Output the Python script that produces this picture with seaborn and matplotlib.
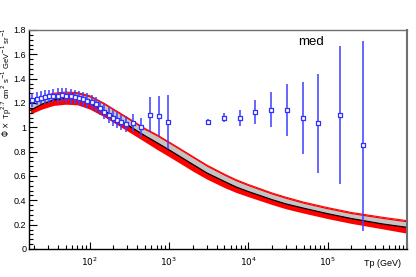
import numpy as np
import pandas as pd
import matplotlib
matplotlib.use("Agg")
import matplotlib.pyplot as plt
import seaborn as sns
from matplotlib.ticker import MultipleLocator, LogLocator, FixedLocator, NullFormatter, FuncFormatter

# model band: upper edge, central (black) line, lower edge
band_e = [18, 25, 35, 50, 70, 100, 150, 200, 300, 500, 700, 1000, 1500, 2000, 3000,
          5000, 7000, 1e4, 2e4, 3e4, 5e4, 1e5, 2e5, 5e5, 1e6]
band_hi = [1.21, 1.25, 1.28, 1.29, 1.285, 1.26, 1.20, 1.15, 1.08, 0.99, 0.94, 0.88,
           0.81, 0.76, 0.69, 0.615, 0.57, 0.53, 0.46, 0.425, 0.385, 0.34, 0.30, 0.26, 0.233]
band_mid = [1.14, 1.19, 1.225, 1.24, 1.235, 1.20, 1.14, 1.09, 1.02, 0.93, 0.875, 0.815,
            0.745, 0.695, 0.625, 0.555, 0.51, 0.472, 0.405, 0.37, 0.335, 0.29, 0.25, 0.205, 0.178]
band_lo = [1.11, 1.15, 1.18, 1.19, 1.185, 1.15, 1.09, 1.04, 0.97, 0.88, 0.82, 0.76,
           0.69, 0.64, 0.575, 0.505, 0.465, 0.43, 0.365, 0.33, 0.295, 0.25, 0.21, 0.165, 0.13]

# measured points
data_e = [19, 21.5, 24.5, 27.5, 31, 35, 39.5, 45, 51, 57.5, 65, 73.5, 83, 94, 106, 120,
          136, 154, 174, 197, 223, 252, 285, 355, 448, 571, 743, 986,
          3100, 4910, 7830, 12340, 19500, 31100, 49200, 76900, 145000, 283000]
data_phi = [1.225, 1.235, 1.245, 1.25, 1.255, 1.26, 1.26, 1.265, 1.26, 1.255, 1.25, 1.24,
            1.23, 1.22, 1.205, 1.19, 1.16, 1.13, 1.10, 1.08, 1.06, 1.04, 1.03,
            1.035, 1.0, 1.103, 1.093, 1.044,
            1.046, 1.079, 1.079, 1.126, 1.145, 1.142, 1.079, 1.033, 1.104, 0.852]
data_err_lo = [0.055, 0.055, 0.055, 0.055, 0.055, 0.055, 0.06, 0.06, 0.06, 0.06, 0.06, 0.06,
               0.06, 0.06, 0.06, 0.06, 0.06, 0.06, 0.065, 0.065, 0.065, 0.065, 0.065,
               0.074, 0.08, 0.145, 0.164, 0.22,
               0.025, 0.039, 0.066, 0.096, 0.145, 0.214, 0.296, 0.407, 0.567, 0.70]
data_err_hi = data_err_lo[:-1] + [0.86]

df = pd.DataFrame({"E": band_e, "hi": band_hi, "mid": band_mid, "lo": band_lo})

fig = plt.figure(figsize=(4.16, 2.77), dpi=100)
ax = fig.add_axes([0.0697, 0.1011, 0.9083, 0.7906])

ax.fill_between(df["E"], df["hi"], df["lo"], color="#ff0000", lw=0)
ax.plot(df["E"], df["hi"], color="#ff0000", lw=0.8)
ax.fill_between(df["E"], df["hi"] - 0.01, df["mid"] + 0.004, color="#c4c4c4", lw=0)
sns.lineplot(data=df, x="E", y="mid", color="black", lw=0.9, ax=ax)

ax.errorbar(data_e, data_phi, yerr=[data_err_lo, data_err_hi], fmt="none",
            ecolor="#4040ff", elinewidth=1.4, alpha=0.8, capsize=0)
sns.scatterplot(x=data_e, y=data_phi, marker="s", s=8, facecolor="white",
                edgecolor="#3030ff", linewidth=0.9, ax=ax, zorder=5)

ax.set_xscale("log")
ax.set_xlim(17.2, 1.0e6)
ax.set_ylim(0, 1.8)
ax.set_xlabel("")
ax.set_ylabel("")

ax.xaxis.set_major_locator(FixedLocator([1e2, 1e3, 1e4, 1e5, 1e6]))
ax.xaxis.set_minor_locator(LogLocator(base=10, subs=np.arange(2, 10), numticks=20))
ax.xaxis.set_minor_formatter(NullFormatter())
ax.set_xticklabels([r"$10^{2}$", r"$10^{3}$", r"$10^{4}$", r"$10^{5}$", ""])
ax.yaxis.set_major_locator(MultipleLocator(0.2))
ax.yaxis.set_minor_locator(MultipleLocator(0.04))
ax.yaxis.set_major_formatter(FuncFormatter(lambda v, p: f"{v:g}"))

ax.tick_params(axis="both", which="both", direction="in", top=False, right=False,
               labelsize=6.5, width=0.8)
ax.tick_params(axis="y", which="major", length=6, pad=2)
ax.tick_params(axis="y", which="minor", length=3)
ax.tick_params(axis="x", which="major", length=5, pad=5)
ax.tick_params(axis="x", which="minor", length=3)
for lab in ax.get_xticklabels() + ax.get_yticklabels():
    lab.set_family("Liberation Sans")

for side in ["left", "bottom"]:
    ax.spines[side].set_color("black")
    ax.spines[side].set_linewidth(1.0)
ax.spines["top"].set_color("#707070")
ax.spines["top"].set_linewidth(1.0)
ax.spines["right"].set_color("#707070")
ax.spines["right"].set_linewidth(1.5)

fig.text(0.016, 0.90, r"$\Phi\,\times$ Tp$^{2.7}$ cm$^{2}$ s$^{-1}$ GeV$^{-1}$ sr$^{-1}$",
         rotation=90, ha="center", va="top", fontsize=5.5, family="Liberation Sans")
fig.text(0.965, 0.05, "Tp (GeV)", ha="right", va="center", fontsize=6.5,
         family="Liberation Sans")
fig.text(0.748, 0.85, "med", ha="center", va="center", fontsize=9.5,
         family="Liberation Sans")

fig.savefig("out.png", dpi=100)
